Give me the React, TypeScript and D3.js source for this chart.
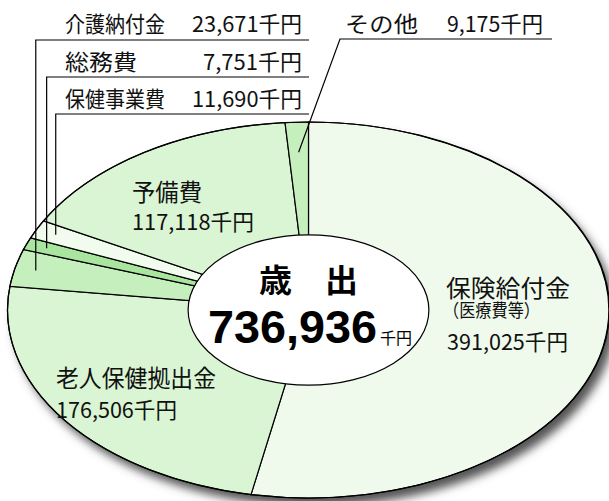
import React from 'react';
import * as d3 from 'd3';

// ---- data ----
const categories = ['保険給付金', '老人保健拠出金', '介護納付金', '総務費', '保健事業費', '予備費', 'その他'];
const values = [391025, 176506, 23671, 7751, 11690, 117118, 9175];
const valueLabels = ['391,025千円', '176,506千円', '23,671千円', '7,751千円', '11,690千円', '117,118千円', '9,175千円'];
const sliceColors = ['#effaec', '#daf5d3', '#c5efbc', '#a9e59e', '#f1fbee', '#daf5d3', '#c5efbc'];
const centerTitle = '歳　出';
const centerTotal = '736,936';
const centerUnit = '千円';
const subNote = '（医療費等）';

const W = 609;
const H = 501;
const CX = 308.5;
const CY = 310;
const RX = 301;
const RY = 188;
const INNER = 0.4;

const JP = '"Noto Sans CJK JP", "Noto Sans", sans-serif';

export default function App() {
  const pie = d3.pie<number>().sort(null).value((d) => d).startAngle(0).endAngle(2 * Math.PI);
  const arcs = pie(values);
  const arcGen = d3.arc<d3.PieArcDatum<number>>().innerRadius(0).outerRadius(1);
  const pt = (a: number, r: number): [number, number] => [CX + RX * r * Math.sin(a), CY - RY * r * Math.cos(a)];
  const mid = (i: number) => (arcs[i].startAngle + arcs[i].endAngle) / 2;

  // leaders for small slices (index, underline y, radial position)
  const boxLeaders = [
    { i: 2, y: 40, r: 0.93 },
    { i: 3, y: 77, r: 0.93 },
    { i: 4, y: 114, r: 0.93 },
  ];
  const otherAnchor = pt(mid(6), 0.84);

  return (
    <svg width={W} height={H} style={{ position: 'absolute', left: 0, top: 0, display: 'block', background: '#fff' }}>
      <defs>
        <filter id="shadow" x="-10%" y="-10%" width="130%" height="130%">
          <feGaussianBlur stdDeviation="5" />
        </filter>
      </defs>
      <ellipse cx={CX + 6} cy={CY + 8} rx={RX} ry={RY} fill="#555" filter="url(#shadow)" />
      <g transform={`translate(${CX},${CY}) scale(${RX},${RY})`}>
        {arcs.map((a, i) => (
          <path
            key={i}
            d={arcGen(a) || ''}
            fill={sliceColors[i]}
            stroke="#000"
            strokeWidth={1.2}
            vectorEffect="non-scaling-stroke"
          />
        ))}
        <ellipse cx={0} cy={0} rx={1} ry={1} fill="none" stroke="#000" strokeWidth={1.2} vectorEffect="non-scaling-stroke" />
        <ellipse cx={0} cy={0} rx={INNER} ry={INNER} fill="#fff" stroke="#000" strokeWidth={1.2} vectorEffect="non-scaling-stroke" />
      </g>

      {/* leaders */}
      {boxLeaders.map((b) => {
        const [x, y] = pt(mid(b.i), b.r);
        return <path key={b.i} d={`M${x},${y}V${b.y}H309`} fill="none" stroke="#000" strokeWidth={1.2} />;
      })}
      <path d={`M${otherAnchor[0]},${otherAnchor[1]}L340,39H552`} fill="none" stroke="#000" strokeWidth={1.2} />

      {/* top labels */}
      <g fontFamily={JP} fontSize={22} fill="#111">
        <text x={65} y={32} textLength={100} lengthAdjust="spacingAndGlyphs">{categories[2]}</text>
        <text x={192} y={32} textLength={110} lengthAdjust="spacingAndGlyphs">{valueLabels[2]}</text>
        <text x={65} y={70} textLength={72} lengthAdjust="spacingAndGlyphs">{categories[3]}</text>
        <text x={203} y={70} textLength={99} lengthAdjust="spacingAndGlyphs">{valueLabels[3]}</text>
        <text x={65} y={107} textLength={100} lengthAdjust="spacingAndGlyphs">{categories[4]}</text>
        <text x={192} y={107} textLength={110} lengthAdjust="spacingAndGlyphs">{valueLabels[4]}</text>
        <text x={345} y={32} textLength={73} lengthAdjust="spacingAndGlyphs">{categories[6]}</text>
        <text x={447} y={32} textLength={96} lengthAdjust="spacingAndGlyphs">{valueLabels[6]}</text>
      </g>

      {/* slice labels */}
      <g fontFamily={JP} fill="#111">
        <text x={132} y={201} fontSize={24} textLength={70} lengthAdjust="spacingAndGlyphs">{categories[5]}</text>
        <text x={132} y={230} fontSize={22} textLength={122} lengthAdjust="spacingAndGlyphs">{valueLabels[5]}</text>
        <text x={446} y={297} fontSize={24} textLength={124} lengthAdjust="spacingAndGlyphs">{categories[0]}</text>
        <text x={443} y={317} fontSize={18} textLength={97} lengthAdjust="spacingAndGlyphs">{subNote}</text>
        <text x={447} y={350} fontSize={22} textLength={121} lengthAdjust="spacingAndGlyphs">{valueLabels[0]}</text>
        <text x={56} y={387} fontSize={24} textLength={160} lengthAdjust="spacingAndGlyphs">{categories[1]}</text>
        <text x={56} y={418} fontSize={22} textLength={121} lengthAdjust="spacingAndGlyphs">{valueLabels[1]}</text>
      </g>

      {/* center */}
      <text x={259} y={292} fontFamily={JP} fontWeight="bold" fontSize={32} fill="#000" textLength={99} lengthAdjust="spacingAndGlyphs">{centerTitle}</text>
      <text x={208} y={343} fontFamily='"Liberation Sans", Arial, sans-serif' fontWeight="bold" fontSize={46} fill="#000" textLength={169} lengthAdjust="spacingAndGlyphs">{centerTotal}</text>
      <text x={380} y={344} fontFamily={JP} fontSize={16} fill="#000" textLength={32} lengthAdjust="spacingAndGlyphs">{centerUnit}</text>
    </svg>
  );
}
